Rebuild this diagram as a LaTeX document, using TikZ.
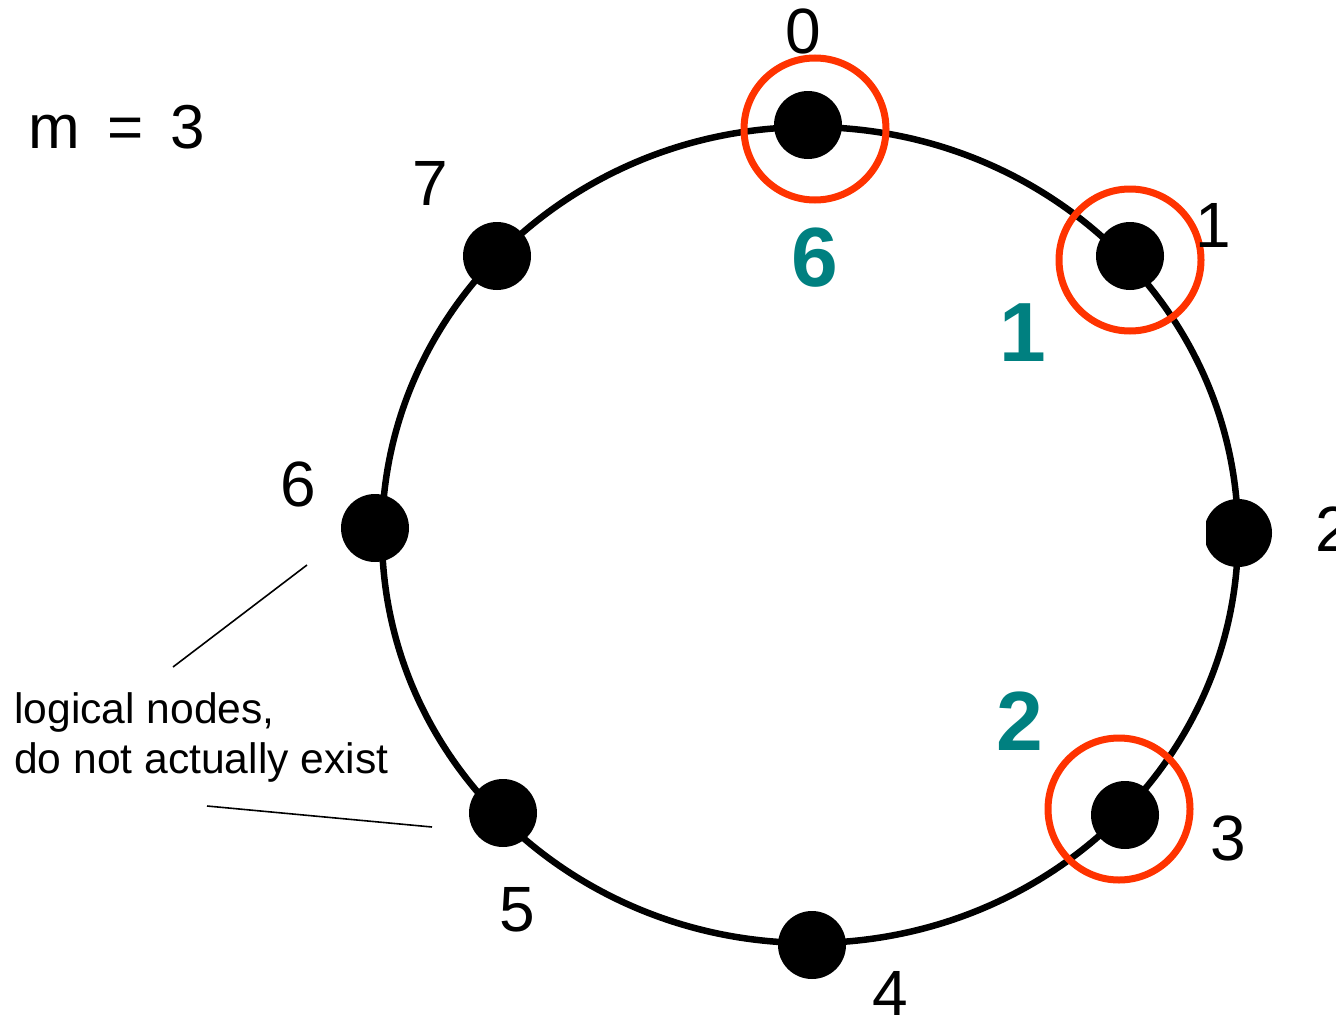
\documentclass[tikz,border=0pt]{standalone}
\usepackage{fontspec}
\setmainfont{Liberation Sans}
\definecolor{ringred}{RGB}{255,51,0}
\definecolor{tealnum}{RGB}{0,128,128}
\begin{document}
\begin{tikzpicture}[x=1pt,y=-1pt,
  dot/.style={circle,fill=black,inner sep=0pt,minimum size=68pt},
  hilite/.style={draw=ringred,line width=7pt,circle,inner sep=0pt,minimum size=142pt},
  ring/.style={line width=6.5pt},
  idlabel/.style={inner sep=0pt,font=\fontsize{64}{70}\selectfont},
  hoplabel/.style={inner sep=0pt,text=tealnum,font=\fontsize{84}{90}\selectfont\bfseries},
  leader/.style={line width=1.6pt}]
\useasboundingbox (0,0) rectangle (1336,1017);
% ring
\draw[ring] (810,535) ellipse [x radius=428pt, y radius=408pt];
% dots
\node[dot] (n0) at (808,125) {};
\node[dot] (n1) at (1130,256) {};
\begin{scope}
  \clip (1206,470) rectangle (1300,600);
  \node[dot] (n2) at (1238,533) {};
\end{scope}
\node[dot] (n3) at (1125,815) {};
\node[dot] (n4) at (812,945) {};
\node[dot] (n5) at (503,813) {};
\node[dot] (n6) at (375,528) {};
\node[dot] (n7) at (497,256) {};
% red highlight circles
\node[hilite] (h0) at (815,129) {};
\node[hilite] (h1) at (1130,260) {};
\node[hilite] (h3) at (1119,809) {};
% id labels
\node[idlabel] (l0) at (803,31) {0};
\node[idlabel] (l1) at (1213,225) {1};
\node[idlabel] (l2) at (1333,529) {2};
\node[idlabel] (l3) at (1228,838) {3};
\node[idlabel] (l4) at (890,993) {4};
\node[idlabel] (l5) at (517,910) {5};
\node[idlabel] (l6) at (298,484) {6};
\node[idlabel] (l7) at (430,183) {7};
% hop labels
\node[hoplabel] (t6) at (815,258) {6};
\node[hoplabel] (t1) at (1023,333) {1};
\node[hoplabel] (t2) at (1020,721) {2};
% m = 3
\node[inner sep=0pt,anchor=west,font=\fontsize{62}{70}\selectfont] (m) at (28,127) {m\hspace{10pt} = \hspace{10pt}3};
% annotation
\node[inner sep=0pt,anchor=north west,align=left,font=\fontsize{42.6}{50}\selectfont] (note) at (14,692) {logical nodes,\\do not actually exist};
\coordinate (a1s) at (173,667);
\coordinate (a1e) at (307,565);
\coordinate (a2s) at (207,806);
\coordinate (a2e) at (432,827);
\draw[leader] (a1s) -- (a1e);
\draw[leader] (a2s) -- (a2e);
\end{tikzpicture}
\end{document}
